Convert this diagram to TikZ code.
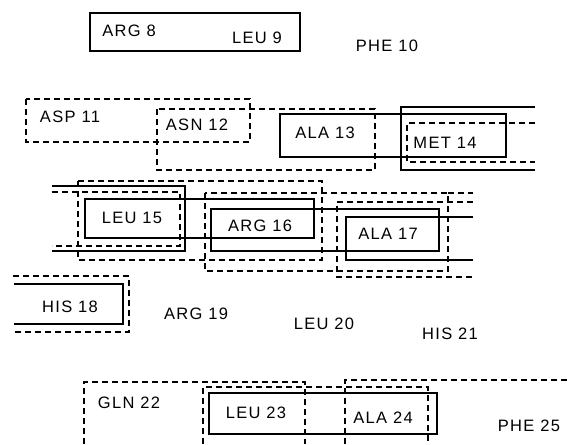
\documentclass[tikz,border=0pt]{standalone}
\usepackage{fontspec}
\setmainfont[LetterSpace=8]{Liberation Sans}
\begin{document}
\begin{tikzpicture}[x=1pt,y=-1pt,
  solidline/.style={line width=1.1pt,black},
  dashline/.style={line width=1.1pt,black,dash pattern=on 6pt off 4pt},
  lbl/.style={font=\fontsize{16.5}{16.5}\selectfont,inner sep=0pt}]
\useasboundingbox[fill=white] (0,0) rectangle (567,444);
% row 1
\draw[solidline] (90,13) rectangle (300,51);
% row 2
\draw[dashline] (26,99) rectangle (250,142);
\draw[dashline] (157,109) rectangle (375,170);
\draw[solidline] (280,114) rectangle (506,157);
\draw[solidline] (535,107) -- (401,107) -- (401,170) -- (535,170);
\draw[dashline] (535,123) -- (407,123) -- (407,162) -- (535,162);
% row 3
\draw[dashline] (78,181) rectangle (322,260);
\draw[solidline] (52,186) -- (185,186) -- (185,251) -- (52,251);
\draw[dashline] (52,192) -- (180,192) -- (180,246) -- (52,246);
\draw[solidline] (85,199) rectangle (314,238);
\draw[solidline] (211,209) rectangle (439,251);
\draw[dashline] (205,193) rectangle (448,271);
\draw[dashline] (448,193) -- (473,193);
\draw[solidline] (473,217) -- (346,217) -- (346,260) -- (473,260);
\draw[dashline] (473,202) -- (337,202) -- (337,277) -- (473,277);
% row 4
\draw[solidline] (14,284) -- (123,284) -- (123,324) -- (14,324);
\draw[dashline] (13,276) -- (129,276) -- (129,332) -- (13,332);
% row 5
\draw[dashline] (84,444) -- (84,382) -- (305,382) -- (305,444);
\draw[dashline] (203,444) -- (203,387) -- (428,387) -- (428,444);
\draw[solidline] (209,393) rectangle (437,434);
\draw[dashline] (345,444) -- (345,380) -- (567,380);
% labels
\node[lbl] (arg8)  at (129,31)  {ARG 8};
\node[lbl] (leu9)  at (257,38)  {LEU 9};
\node[lbl] (phe10) at (387,46)  {PHE 10};
\node[lbl] (asp11) at (70,117)  {ASP 11};
\node[lbl] (asn12) at (197,125) {ASN 12};
\node[lbl] (ala13) at (325,133) {ALA 13};
\node[lbl] (met14) at (445,143) {MET 14};
\node[lbl] (leu15) at (132,218) {LEU 15};
\node[lbl] (arg16) at (260,226) {ARG 16};
\node[lbl] (ala17) at (388,234) {ALA 17};
\node[lbl] (his18) at (70,307)  {HIS 18};
\node[lbl] (arg19) at (196,314) {ARG 19};
\node[lbl] (leu20) at (324,324) {LEU 20};
\node[lbl] (his21) at (450,334) {HIS 21};
\node[lbl] (gln22) at (129,403) {GLN 22};
\node[lbl] (leu23) at (256,413) {LEU 23};
\node[lbl] (ala24) at (383,418) {ALA 24};
\node[lbl] (phe25) at (529,426) {PHE 25};
\end{tikzpicture}
\end{document}
